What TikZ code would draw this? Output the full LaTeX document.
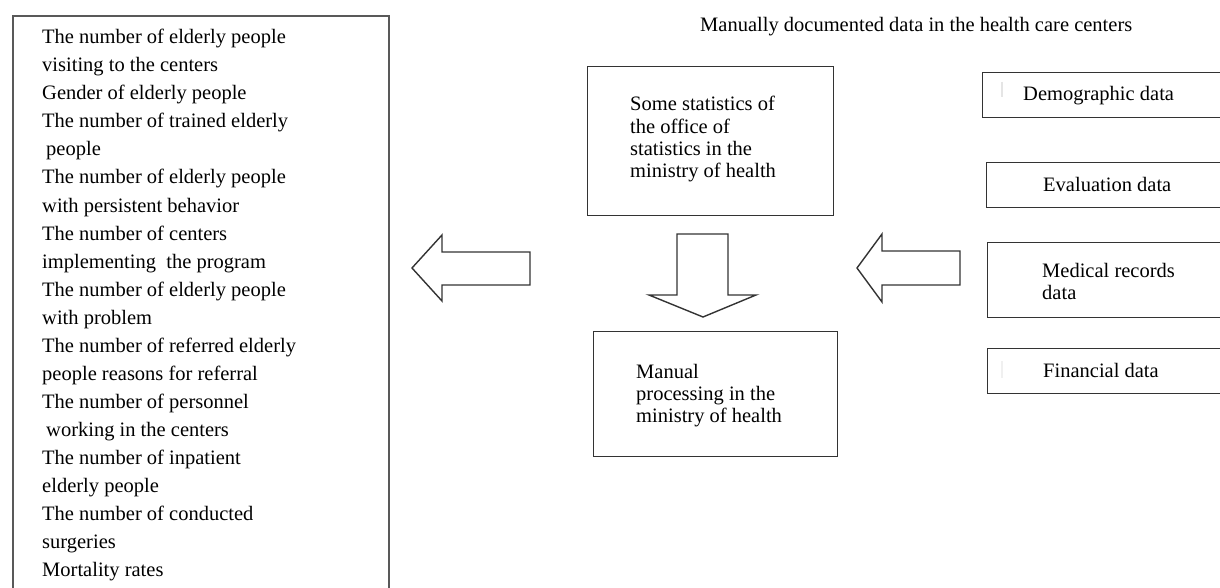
\documentclass[tikz,border=0pt]{standalone}
\usepackage{fontspec}
\setmainfont{Liberation Serif}
\begin{document}
\begin{tikzpicture}[x=1pt,y=-1pt,
  box/.style={draw=black!80, line width=1.4pt, rectangle, inner sep=0pt, anchor=north west},
  txt/.style={anchor=base west, inner sep=0pt, font=\fontsize{20.5}{22}\selectfont, text=black},
  blockarrow/.style={draw=black!80, line width=1.4pt, line join=miter, fill=white},
  faint/.style={draw=black!10, line width=1.5pt}]
\useasboundingbox (0,0) rectangle (1220,588);
\clip (0,0) rectangle (1220,588);
\fill[white] (0,0) rectangle (1220,588);

% left list box (bottom edge outside the picture)
\node[box, minimum width=376pt, minimum height=620pt, draw=black!65, line width=2pt] (list) at (12,15) {};
\foreach \t [count=\i] in {
  {The number of elderly people},
  {visiting to the centers},
  {Gender of elderly people},
  {The number of trained elderly},
  {\hspace{4pt}people},
  {The number of elderly people},
  {with persistent behavior},
  {The number of centers},
  {implementing\ \ the program},
  {The number of elderly people},
  {with problem},
  {The number of referred elderly},
  {people reasons for referral},
  {The number of personnel},
  {\hspace{4pt}working in the centers},
  {The number of inpatient},
  {elderly people},
  {The number of conducted},
  {surgeries},
  {Mortality rates}}
  \node[txt] (l\i) at (42,16+28*\i) {\t};

% title
\node[txt] (title) at (700,32) {Manually documented data in the health care centers};

% statistics box
\node[box, minimum width=246pt, minimum height=149pt] (stats) at (587,66) {};
\node[txt] (s1) at (630,111) {Some statistics of};
\node[txt] (s2) at (630,133.5) {the office of};
\node[txt] (s3) at (630,156) {statistics in the};
\node[txt] (s4) at (630,178) {ministry of health};

% manual processing box
\node[box, minimum width=244pt, minimum height=125pt] (proc) at (593,331) {};
\node[txt] (p1) at (636,378) {Manual};
\node[txt] (p2) at (636,400) {processing in the};
\node[txt] (p3) at (636,422) {ministry of health};

% right data boxes (right edges outside the picture)
\node[box, minimum width=260pt, minimum height=45pt] (demo) at (982,72) {};
\node[txt] (d1) at (1023,101) {Demographic data};
\draw[faint] (1002,82) -- (1002,97);

\node[box, minimum width=260pt, minimum height=45pt] (eval) at (986,162) {};
\node[txt] (e1) at (1043,192) {Evaluation data};

\node[box, minimum width=260pt, minimum height=75pt] (med) at (987,242) {};
\node[txt] (m1) at (1042,277) {Medical records};
\node[txt] (m2) at (1042,299) {data};

\node[box, minimum width=260pt, minimum height=45pt] (fin) at (987,348) {};
\node[txt] (f1) at (1043,377) {Financial data};
\draw[faint, draw=black!6] (1002,361) -- (1002,378);

% block arrows
\draw[blockarrow] (412,268) -- (442,235) -- (442,252) -- (530,252) -- (530,285)
  -- (442,285) -- (442,301) -- cycle;
\draw[blockarrow] (857,268) -- (882,234) -- (882,251) -- (960,251) -- (960,285)
  -- (882,285) -- (882,302) -- cycle;
\draw[blockarrow] (677,234) -- (728,234) -- (728,295) -- (756,295) -- (703,317)
  -- (649,295) -- (677,295) -- cycle;
\end{tikzpicture}
\end{document}
